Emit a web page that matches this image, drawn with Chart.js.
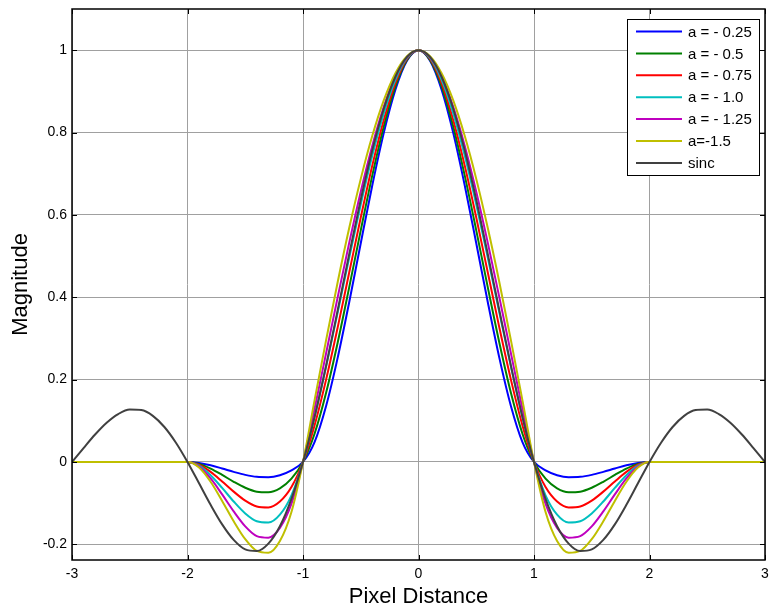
<!DOCTYPE html>
<html>
<head>
<meta charset="utf-8">
<script src="https://cdn.jsdelivr.net/npm/chart.js@4/dist/chart.umd.min.js"></script>
<style>
  html, body { margin: 0; padding: 0; background: #fff; }
  #wrap { width: 769px; height: 610px; }
</style>
</head>
<body>
<div id="wrap"><canvas id="c" width="769" height="610"></canvas></div>
<script>
const xValues = [-3.0,-2.9,-2.8,-2.7,-2.6,-2.5,-2.4,-2.3,-2.2,-2.1,
  -2.0,-1.9,-1.8,-1.7,-1.6,-1.5,-1.4,-1.3,-1.2,-1.1,
  -1.0,-0.9,-0.8,-0.7,-0.6,-0.5,-0.4,-0.3,-0.2,-0.1,
  0.0,
  0.1,0.2,0.3,0.4,0.5,0.6,0.7,0.8,0.9,1.0,
  1.1,1.2,1.3,1.4,1.5,1.6,1.7,1.8,1.9,2.0,
  2.1,2.2,2.3,2.4,2.5,2.6,2.7,2.8,2.9,3.0];

const a025 = [0,0,0,0,0,0,0,0,0,0,
  0,-0.0023,-0.008,-0.0158,-0.024,-0.0313,-0.036,-0.0368,-0.032,-0.0203,
  0,0.0483,0.136,0.2528,0.388,0.5313,0.672,0.7998,0.904,0.9743,
  1,
  0.9743,0.904,0.7998,0.672,0.5313,0.388,0.2528,0.136,0.0483,0,
  -0.0203,-0.032,-0.0368,-0.036,-0.0313,-0.024,-0.0158,-0.008,-0.0023,0,
  0,0,0,0,0,0,0,0,0,0];
const a05 = [0,0,0,0,0,0,0,0,0,0,
  0,-0.0045,-0.016,-0.0315,-0.048,-0.0625,-0.072,-0.0735,-0.064,-0.0405,
  0,0.0685,0.168,0.2895,0.424,0.5625,0.696,0.8155,0.912,0.9765,
  1,
  0.9765,0.912,0.8155,0.696,0.5625,0.424,0.2895,0.168,0.0685,0,
  -0.0405,-0.064,-0.0735,-0.072,-0.0625,-0.048,-0.0315,-0.016,-0.0045,0,
  0,0,0,0,0,0,0,0,0,0];
const a075 = [0,0,0,0,0,0,0,0,0,0,
  0,-0.0068,-0.024,-0.0473,-0.072,-0.0938,-0.108,-0.1103,-0.096,-0.0608,
  0,0.0888,0.2,0.3263,0.46,0.5938,0.72,0.8313,0.92,0.9788,
  1,
  0.9788,0.92,0.8313,0.72,0.5938,0.46,0.3263,0.2,0.0888,0,
  -0.0608,-0.096,-0.1103,-0.108,-0.0938,-0.072,-0.0473,-0.024,-0.0068,0,
  0,0,0,0,0,0,0,0,0,0];
const a10 = [0,0,0,0,0,0,0,0,0,0,
  0,-0.009,-0.032,-0.063,-0.096,-0.125,-0.144,-0.147,-0.128,-0.081,
  0,0.109,0.232,0.363,0.496,0.625,0.744,0.847,0.928,0.981,
  1,
  0.981,0.928,0.847,0.744,0.625,0.496,0.363,0.232,0.109,0,
  -0.081,-0.128,-0.147,-0.144,-0.125,-0.096,-0.063,-0.032,-0.009,0,
  0,0,0,0,0,0,0,0,0,0];
const a125 = [0,0,0,0,0,0,0,0,0,0,
  0,-0.0113,-0.04,-0.0788,-0.12,-0.1563,-0.18,-0.1838,-0.16,-0.1013,
  0,0.1293,0.264,0.3998,0.532,0.6563,0.768,0.8628,0.936,0.9833,
  1,
  0.9833,0.936,0.8628,0.768,0.6563,0.532,0.3998,0.264,0.1293,0,
  -0.1013,-0.16,-0.1838,-0.18,-0.1563,-0.12,-0.0788,-0.04,-0.0113,0,
  0,0,0,0,0,0,0,0,0,0];
const a15 = [0,0,0,0,0,0,0,0,0,0,
  0,-0.0135,-0.048,-0.0945,-0.144,-0.1875,-0.216,-0.2205,-0.192,-0.1215,
  0,0.1495,0.296,0.4365,0.568,0.6875,0.792,0.8785,0.944,0.9855,
  1,
  0.9855,0.944,0.8785,0.792,0.6875,0.568,0.4365,0.296,0.1495,0,
  -0.1215,-0.192,-0.2205,-0.216,-0.1875,-0.144,-0.0945,-0.048,-0.0135,0,
  0,0,0,0,0,0,0,0,0,0];
const sincValues = [0,0.0339,0.0668,0.0954,0.1164,0.1273,0.1261,0.112,0.085,0.0468,
  0,-0.0518,-0.1039,-0.1515,-0.1892,-0.2122,-0.2162,-0.1981,-0.1559,-0.0894,
  0,0.1093,0.2339,0.3679,0.5046,0.6366,0.7568,0.8584,0.9355,0.9836,
  1,
  0.9836,0.9355,0.8584,0.7568,0.6366,0.5046,0.3679,0.2339,0.1093,0,
  -0.0894,-0.1559,-0.1981,-0.2162,-0.2122,-0.1892,-0.1515,-0.1039,-0.0518,0,
  0.0468,0.085,0.112,0.1261,0.1273,0.1164,0.0954,0.0668,0.0339,0];

const seriesLabels = ['a = - 0.25','a = - 0.5','a = - 0.75','a = - 1.0','a = - 1.25','a=-1.5','sinc'];
const seriesValues = [a025, a05, a075, a10, a125, a15, sincValues];
const seriesColors = ['#0000ff','#008000','#ff0000','#00bfbf','#bf00bf','#bfbf00','#404040'];

const xTicks = [-3,-2,-1,0,1,2,3];
const yTicks = [-0.2,0,0.2,0.4,0.6,0.8,1];
const xTitle = 'Pixel Distance';
const yTitle = 'Magnitude';

const FONT = 'Liberation Sans, Arial, sans-serif';

const datasets = seriesValues.map((vals, i) => ({
  label: seriesLabels[i],
  data: vals.map((v, j) => ({x: xValues[j], y: v})),
  borderColor: seriesColors[i],
  backgroundColor: seriesColors[i],
  borderWidth: 2,
  pointRadius: 0,
  fill: false,
  order: seriesValues.length - 1 - i,
  cubicInterpolationMode: 'monotone'
}));

const framePlugin = {
  id: 'frame',
  afterDatasetsDraw(chart) {
    const {ctx, chartArea: a, scales} = chart;
    ctx.save();
    ctx.strokeStyle = '#000';
    ctx.lineWidth = 1;
    const tl = 5;
    xTicks.forEach(t => {
      const px = Math.round(scales.x.getPixelForValue(t)) + 0.5;
      ctx.beginPath();
      ctx.moveTo(px, a.bottom); ctx.lineTo(px, a.bottom - tl);
      ctx.moveTo(px, a.top); ctx.lineTo(px, a.top + tl);
      ctx.stroke();
    });
    yTicks.forEach(t => {
      const py = Math.round(scales.y.getPixelForValue(t)) + 0.5;
      ctx.beginPath();
      ctx.moveTo(a.left, py); ctx.lineTo(a.left + tl, py);
      ctx.moveTo(a.right, py); ctx.lineTo(a.right - tl, py);
      ctx.stroke();
    });
    ctx.lineWidth = 1.5;
    ctx.strokeRect(a.left, a.top, a.right - a.left, a.bottom - a.top);

    // legend box
    const lx = 627, ly = 19, lw = 132, lh = 156;
    ctx.fillStyle = '#fff';
    ctx.fillRect(lx, ly, lw, lh);
    ctx.lineWidth = 1;
    ctx.strokeStyle = '#000';
    ctx.strokeRect(lx + 0.5, ly + 0.5, lw, lh);
    ctx.font = '15px ' + FONT;
    ctx.textBaseline = 'middle';
    ctx.textAlign = 'left';
    chart.data.datasets.forEach((ds, i) => {
      const yy = 31.5 + i * 21.9;
      ctx.strokeStyle = ds.borderColor;
      ctx.lineWidth = 2;
      ctx.beginPath();
      ctx.moveTo(636, yy); ctx.lineTo(682, yy);
      ctx.stroke();
      ctx.fillStyle = '#000';
      ctx.fillText(ds.label, 688, yy + 1);
    });
    ctx.restore();
  }
};

new Chart(document.getElementById('c'), {
  type: 'line',
  data: { datasets },
  options: {
    responsive: false,
    animation: false,
    layout: { padding: { left: 0, right: 4, top: 9, bottom: 0 } },
    plugins: { legend: { display: false }, tooltip: { enabled: false } },
    scales: {
      x: {
        type: 'linear',
        min: -3, max: 3,
        afterBuildTicks: s => { s.ticks = xTicks.map(v => ({value: v})); },
        afterFit: s => { s.height = 50; s.paddingLeft = 0; s.paddingRight = 0; },
        grid: { color: '#a0a0a0', lineWidth: 1, drawTicks: false },
        border: { display: false },
        ticks: {
          color: '#000', padding: 6,
          font: { family: FONT, size: 14 },
          maxRotation: 0,
          callback: v => String(v)
        },
        title: {
          display: true, text: xTitle, color: '#000',
          font: { family: FONT, size: 22 },
          padding: { top: 0, bottom: 0 }
        }
      },
      y: {
        type: 'linear',
        min: -0.238, max: 1.1,
        afterBuildTicks: s => { s.ticks = yTicks.map(v => ({value: v})); },
        afterFit: s => { s.width = 72; s.paddingTop = 0; s.paddingBottom = 0; },
        grid: { color: '#a0a0a0', lineWidth: 1, drawTicks: false },
        border: { display: false },
        ticks: {
          color: '#000', padding: 5,
          font: { family: FONT, size: 14 },
          callback: v => String(Math.round(v * 10) / 10)
        },
        title: {
          display: true, text: yTitle, color: '#000',
          font: { family: FONT, size: 22 },
          padding: { top: 8, bottom: 0 }
        }
      }
    }
  },
  plugins: [framePlugin]
});
</script>
</body>
</html>
